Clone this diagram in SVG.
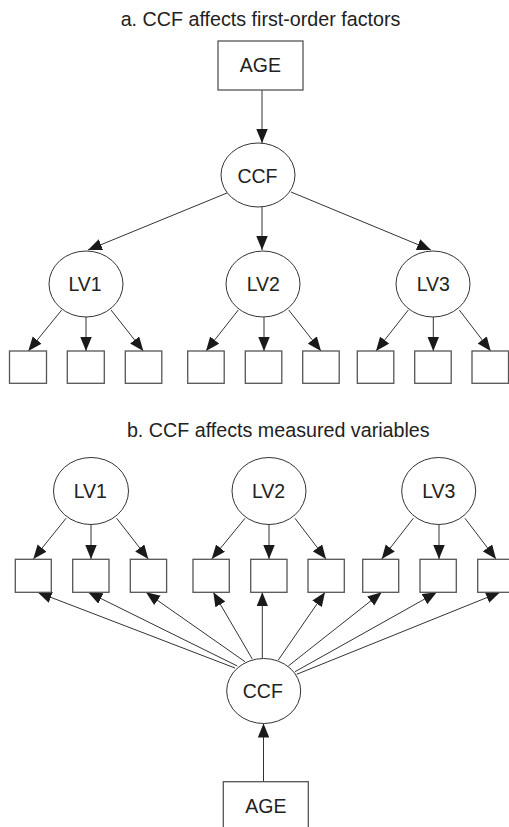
<svg xmlns="http://www.w3.org/2000/svg" width="509" height="827" viewBox="0 0 509 827">
<defs>
<marker id="ah" markerUnits="userSpaceOnUse" markerWidth="15" markerHeight="12" refX="14" refY="5.75" orient="auto">
<path d="M0,0 L14,5.75 L0,11.5 Z" fill="#1a1a1a"/>
</marker>
</defs>
<style>
text{font-family:"Liberation Sans",Arial,Helvetica,sans-serif;fill:#222;text-anchor:middle}
.t{font-size:19.7px}
.n{font-size:19.5px}
.box{fill:#fff;stroke:#555;stroke-width:1.3}
.ell{fill:#fff;stroke:#333;stroke-width:1}
.c line{stroke:#333;stroke-width:1;marker-end:url(#ah)}
</style>
<rect width="509" height="827" fill="#fff"/>
<text class="t" x="260.5" y="26">a. CCF affects first-order factors</text>
<text class="t" x="278.3" y="437">b. CCF affects measured variables</text>

<g class="c" id="connectors-a">
<line x1="262" y1="90" x2="262" y2="143"/>
<line x1="227" y1="193" x2="88" y2="250"/>
<line x1="262" y1="207" x2="262" y2="250"/>
<line x1="291" y1="192" x2="431" y2="250"/>
<line x1="61.7" y1="310" x2="28.3" y2="351"/>
<line x1="86" y1="317" x2="86" y2="351"/>
<line x1="111" y1="310" x2="143.3" y2="351"/>
<line x1="238.3" y1="310" x2="206" y2="351"/>
<line x1="264" y1="317" x2="264" y2="351"/>
<line x1="288.7" y1="310" x2="321" y2="351"/>
<line x1="408.3" y1="310" x2="376" y2="351"/>
<line x1="433.3" y1="317" x2="433.3" y2="351"/>
<line x1="459.3" y1="310" x2="490.7" y2="351"/>
</g>

<g id="a-age"><rect class="box" x="218" y="41" width="85" height="49"/><text class="n" x="260.3" y="72">AGE</text></g>
<g id="a-ccf"><ellipse class="ell" cx="258" cy="175" rx="37" ry="32"/><text class="n" x="257.5" y="182.5">CCF</text></g>
<g id="a-lv1"><ellipse class="ell" cx="86" cy="284" rx="37" ry="33"/><text class="n" x="85" y="290.7">LV1</text></g>
<g id="a-lv2"><ellipse class="ell" cx="263" cy="284" rx="37" ry="33"/><text class="n" x="263.3" y="290.7">LV2</text></g>
<g id="a-lv3"><ellipse class="ell" cx="433" cy="284" rx="37" ry="33"/><text class="n" x="433.3" y="290.7">LV3</text></g>
<g id="a-m1"><rect class="box" x="9.5" y="351" width="37" height="32.3"/></g>
<g id="a-m2"><rect class="box" x="67.3" y="351" width="37" height="32.3"/></g>
<g id="a-m3"><rect class="box" x="125.3" y="351" width="36.5" height="32.3"/></g>
<g id="a-m4"><rect class="box" x="187.7" y="351" width="36.5" height="32.3"/></g>
<g id="a-m5"><rect class="box" x="245.3" y="351" width="36.5" height="32.3"/></g>
<g id="a-m6"><rect class="box" x="302.7" y="351" width="36.5" height="32.3"/></g>
<g id="a-m7"><rect class="box" x="357.3" y="351" width="36.5" height="32.3"/></g>
<g id="a-m8"><rect class="box" x="414.7" y="351" width="36.5" height="32.3"/></g>
<g id="a-m9"><rect class="box" x="472" y="351" width="36.5" height="32.3"/></g>

<g class="c" id="connectors-b">
<line x1="66" y1="518.3" x2="33.3" y2="559"/>
<line x1="91" y1="524.5" x2="91" y2="559"/>
<line x1="116.7" y1="518.3" x2="148.3" y2="559"/>
<line x1="245" y1="518.3" x2="211.7" y2="559"/>
<line x1="269" y1="524.5" x2="269" y2="559"/>
<line x1="295" y1="518.3" x2="326" y2="559"/>
<line x1="413.3" y1="518.3" x2="381.7" y2="559"/>
<line x1="439" y1="524.5" x2="439" y2="559"/>
<line x1="465" y1="518.3" x2="496" y2="559"/>
<line x1="235" y1="668" x2="37.7" y2="592.3"/>
<line x1="237.3" y1="666" x2="88.3" y2="592.3"/>
<line x1="245" y1="661.7" x2="146" y2="592.3"/>
<line x1="252.3" y1="659" x2="213.3" y2="592.3"/>
<line x1="262.3" y1="658.5" x2="262.3" y2="592.3"/>
<line x1="278.3" y1="660" x2="325" y2="592.3"/>
<line x1="288.3" y1="666" x2="381.7" y2="592.3"/>
<line x1="295" y1="671.7" x2="436.7" y2="592.3"/>
<line x1="296.7" y1="674.3" x2="500" y2="592.3"/>
<line x1="263.5" y1="781.7" x2="263.5" y2="723.5"/>
</g>

<g id="b-lv1"><ellipse class="ell" cx="91" cy="491" rx="37.5" ry="33.5"/><text class="n" x="90.3" y="498.3">LV1</text></g>
<g id="b-lv2"><ellipse class="ell" cx="269" cy="491" rx="37" ry="33.5"/><text class="n" x="268.5" y="498.3">LV2</text></g>
<g id="b-lv3"><ellipse class="ell" cx="438.7" cy="491" rx="37" ry="33.5"/><text class="n" x="438.8" y="498.3">LV3</text></g>
<g id="b-m1"><rect class="box" x="15.3" y="559.3" width="36" height="33"/></g>
<g id="b-m2"><rect class="box" x="72.7" y="559.3" width="36.3" height="33"/></g>
<g id="b-m3"><rect class="box" x="130.3" y="559.3" width="36.3" height="33"/></g>
<g id="b-m4"><rect class="box" x="193" y="559.3" width="36.3" height="33"/></g>
<g id="b-m5"><rect class="box" x="250.7" y="559.3" width="36.3" height="33"/></g>
<g id="b-m6"><rect class="box" x="308" y="559.3" width="36.3" height="33"/></g>
<g id="b-m7"><rect class="box" x="362.7" y="559.3" width="36" height="33"/></g>
<g id="b-m8"><rect class="box" x="420" y="559.3" width="36.3" height="33"/></g>
<g id="b-m9"><rect class="box" x="477.7" y="559.3" width="36.3" height="33"/></g>
<g id="b-ccf"><ellipse class="ell" cx="263.7" cy="691" rx="37" ry="32.5"/><text class="n" x="262.8" y="698.3">CCF</text></g>
<g id="b-age"><rect class="box" x="223.3" y="781.7" width="85" height="50"/><text class="n" x="265.8" y="813.3">AGE</text></g>
</svg>
